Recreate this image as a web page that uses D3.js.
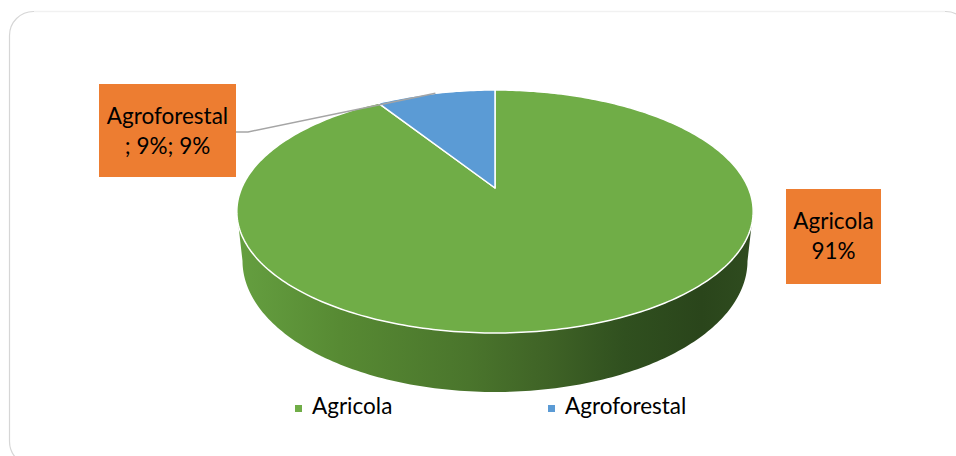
<!DOCTYPE html>
<html>
<head>
<meta charset="utf-8">
<script src="https://cdn.jsdelivr.net/npm/d3@7/dist/d3.min.js"></script>
<style>
  html, body { margin: 0; padding: 0; background: #fff; }
  svg { display: block; }
  text { font-family: Lato, "Noto Sans", sans-serif; }
</style>
</head>
<body>
<svg id="chart" width="956" height="456"></svg>
<script>
// Land-use shares
const categories = ["Agricola", "Agroforestal"];
const values = [91, 9];
const percentLabels = ["91%", "9%"];
const topColors = ["#70ad47", "#5b9bd5"];

const svg = d3.select("#chart");
const W = 956, H = 456;

// Chart frame (rounded, running off the right and bottom edges)
svg.append("rect")
  .attr("x", 9.5).attr("y", 11.5)
  .attr("width", 960).attr("height", 454)
  .attr("rx", 24).attr("ry", 24)
  .attr("fill", "#fff").attr("stroke", "#d6d6d6").attr("stroke-width", 1.2);
svg.append("line")
  .attr("x1", 34).attr("x2", 945).attr("y1", 11.5).attr("y2", 11.5)
  .attr("stroke", "#f1f1f1").attr("stroke-width", 1.6);

// 3D pie: perspective projection of a disc tilted away from the viewer
const cx = 495, cy = 188;       // projected centre of the top face
const A = 116.95, B = 253.3;    // vertical / horizontal semi-axes before perspective
const P = 0.1934;               // perspective strength
const T = 47.6, S = 0.978;      // thickness and bottom-face shrink

function proj(angle, bottom) {
  const u = Math.sin(angle), v = Math.cos(angle), d = 1 + P * v;
  return [cx + B * (bottom ? S : 1) * u / d,
          cy - A * v / d + (bottom ? T / d : 0)];
}
function arcPoints(a0, a1, bottom) {
  const n = Math.max(8, Math.ceil(Math.abs(a1 - a0) * 60));
  return d3.range(n + 1).map(i => proj(a0 + (a1 - a0) * i / n, bottom));
}

const color = d3.scaleOrdinal().domain(categories).range(topColors);
const pie = d3.pie().sort(null).value(d => d.value).startAngle(0).endAngle(2 * Math.PI);
const arcs = pie(categories.map((c, i) => ({ name: c, value: values[i], pct: percentLabels[i] })));
const line = d3.line();

// Side wall gradient
const defs = svg.append("defs");
const grad = defs.append("linearGradient").attr("id", "wall")
  .attr("gradientUnits", "userSpaceOnUse")
  .attr("x1", cx - B * 1.02).attr("x2", cx + B * 1.02).attr("y1", 0).attr("y2", 0);
[[0, "#659f40"], [0.2, "#578a33"], [0.45, "#4a752c"], [0.6, "#3f6326"], [0.75, "#30501f"], [0.9, "#2a451b"], [1, "#2f4c1f"]]
  .forEach(([o, c]) => grad.append("stop").attr("offset", o).attr("stop-color", c));

// Visible front wall between the silhouette extremes
const aR = Math.atan2(Math.sqrt(1 - P * P), -P);
const aL = 2 * Math.PI - aR;
const wallPts = arcPoints(aR, aL, false).concat(arcPoints(aL, aR, true));
svg.append("path").attr("d", line(wallPts) + "Z").attr("fill", "url(#wall)");

// Top faces
svg.selectAll("path.slice").data(arcs).join("path")
  .attr("class", "slice")
  .attr("d", d => line([[cx, cy]].concat(arcPoints(d.startAngle, d.endAngle, false))) + "Z")
  .attr("fill", d => color(d.data.name))
  .attr("stroke", "#fff").attr("stroke-width", 1.5).attr("stroke-linejoin", "round");

// Data labels
const labelBoxes = [
  { x: 786, y: 189, w: 95, h: 95, lines: d => [d.data.name, d.data.pct] },
  { x: 99, y: 84, w: 137, h: 93, lines: d => [d.data.name, "; " + d.data.pct + "; " + d.data.pct] }
];

// Leader line for the small slice
const small = arcs[1];
const mid = proj((small.startAngle + small.endAngle) / 2, false);
const bx = labelBoxes[1];
svg.append("path")
  .attr("d", line([[bx.x + bx.w, 132], [bx.x + bx.w + 12, 132], mid]))
  .attr("fill", "none").attr("stroke", "#a5a5a5").attr("stroke-width", 1.5);

arcs.forEach((d, i) => {
  const b = labelBoxes[i];
  svg.append("rect").attr("x", b.x).attr("y", b.y).attr("width", b.w).attr("height", b.h)
    .attr("fill", "#ed7d31");
  const t = svg.append("text").attr("text-anchor", "middle")
    .attr("font-size", 22.5).attr("fill", "#000");
  b.lines(d).forEach((s, k) => {
    t.append("tspan").attr("x", b.x + b.w / 2).attr("y", b.y + 40 + k * 30).text(s);
  });
});

// Legend
const legendX = [295, 548];
categories.forEach((c, i) => {
  svg.append("rect").attr("x", legendX[i]).attr("y", 405).attr("width", 7).attr("height", 7)
    .attr("fill", color(c));
  svg.append("text").attr("x", legendX[i] + 17).attr("y", 414)
    .attr("font-size", 22.5).attr("fill", "#000").text(c);
});
</script>
</body>
</html>
